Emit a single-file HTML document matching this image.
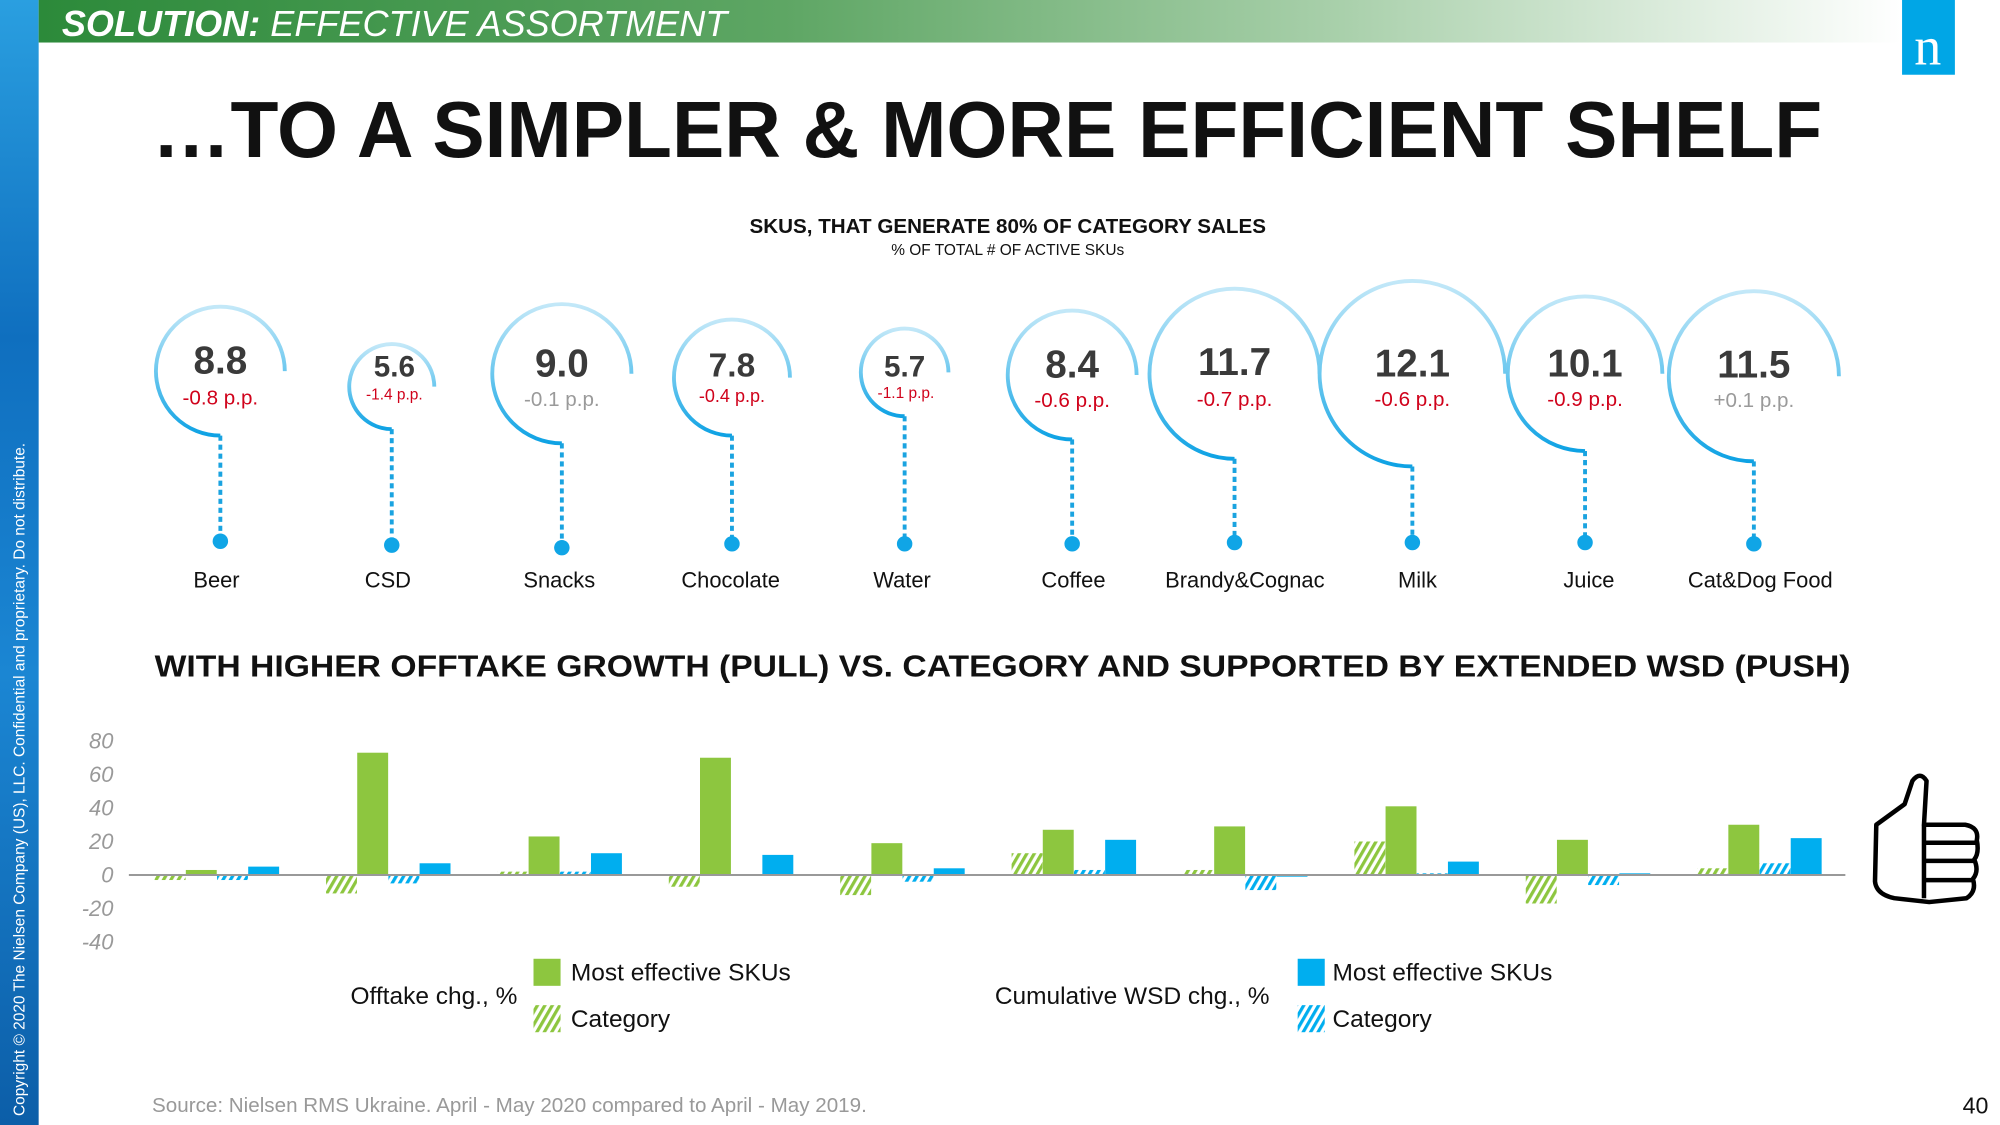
<!DOCTYPE html>
<html><head><meta charset="utf-8"><style>
html,body{margin:0;padding:0;background:#fff;overflow:hidden}
svg{display:block;font-family:"Liberation Sans",Arial,sans-serif}
</style></head><body>
<svg width="2000" height="1125" viewBox="0 0 1552 873" preserveAspectRatio="none" xmlns="http://www.w3.org/2000/svg">
<defs>
<linearGradient id="hdr" x1="0" x2="1" y1="0" y2="0">
<stop offset="0" stop-color="#2c8a3a"/><stop offset="0.4" stop-color="#5ea664"/><stop offset="0.7" stop-color="#a9d0ab"/><stop offset="1" stop-color="#ffffff"/></linearGradient>
<linearGradient id="strip" x1="0" x2="0" y1="0" y2="1">
<stop offset="0" stop-color="#2a9fe0"/><stop offset="0.3" stop-color="#0f6fbf"/><stop offset="0.6" stop-color="#1b86d3"/><stop offset="1" stop-color="#0c5ea8"/></linearGradient>
<linearGradient id="arc" x1="0" x2="0" y1="0" y2="1">
<stop offset="0" stop-color="#c3e8f8"/><stop offset="0.5" stop-color="#6cc8ef"/><stop offset="1" stop-color="#0ea2e4"/></linearGradient>
<pattern id="hg" width="5" height="5" patternUnits="userSpaceOnUse" patternTransform="rotate(30)"><rect width="2.5" height="5" fill="#8dc63f"/></pattern>
<pattern id="hb" width="5" height="5" patternUnits="userSpaceOnUse" patternTransform="rotate(30)"><rect width="2.5" height="5" fill="#00aeef"/></pattern>
</defs>
<rect x="0" y="0" width="30" height="873" fill="url(#strip)"/>
<text transform="translate(19,866) rotate(-90)" font-size="12" fill="#fff">Copyright © 2020 The Nielsen Company (US), LLC. Confidential and proprietary. Do not distribute.</text>
<rect x="30" y="0" width="1445" height="33" fill="url(#hdr)"/>
<text x="48" y="28" font-size="28" fill="#fff" font-style="italic"><tspan font-weight="bold">SOLUTION:</tspan> EFFECTIVE ASSORTMENT</text>
<rect x="1476" y="0" width="41" height="58" fill="#00a6e6"/>
<text x="1496" y="50" font-size="42" fill="#fff" text-anchor="middle" font-family="Liberation Serif,serif">n</text>
<text x="118" y="122" font-size="62" font-weight="bold" fill="#111" textLength="1296" lengthAdjust="spacingAndGlyphs">…TO A SIMPLER &amp; MORE EFFICIENT SHELF</text>
<text x="782" y="181" font-size="16" font-weight="bold" text-anchor="middle" fill="#111">SKUS, THAT GENERATE 80% OF CATEGORY SALES</text>
<text x="782" y="198" font-size="12" text-anchor="middle" fill="#111">% OF TOTAL # OF ACTIVE SKUs</text>
<g fill="none" stroke="url(#arc)" stroke-width="3">
<path d="M171,338 A50,50 0 1 1 221,288"/>
<path d="M304,333 A33,33 0 1 1 337,300"/>
<path d="M436,344 A54,54 0 1 1 490,290"/>
<path d="M568,338 A45,45 0 1 1 613,293"/>
<path d="M702,323 A34,34 0 1 1 736,289"/>
<path d="M832,341 A50,50 0 1 1 882,291"/>
<path d="M958,356 A66,66 0 1 1 1024,290"/>
<path d="M1096,362 A72,72 0 1 1 1168,290"/>
<path d="M1230,350 A60,60 0 1 1 1290,290"/>
<path d="M1361,358 A66,66 0 1 1 1427,292"/>
</g>
<g stroke="#1aa3e0" stroke-width="3" stroke-dasharray="4,3">
<line x1="171" y1="338" x2="171" y2="418"/><line x1="304" y1="333" x2="304" y2="420"/><line x1="436" y1="344" x2="436" y2="422"/><line x1="568" y1="338" x2="568" y2="420"/><line x1="702" y1="323" x2="702" y2="420"/><line x1="832" y1="341" x2="832" y2="420"/><line x1="958" y1="356" x2="958" y2="418"/><line x1="1096" y1="362" x2="1096" y2="418"/><line x1="1230" y1="350" x2="1230" y2="418"/><line x1="1361" y1="358" x2="1361" y2="420"/>
</g>
<g fill="#10a5e6">
<circle cx="171" cy="420" r="6"/><circle cx="304" cy="423" r="6"/><circle cx="436" cy="425" r="6"/><circle cx="568" cy="422" r="6"/><circle cx="702" cy="422" r="6"/><circle cx="832" cy="422" r="6"/><circle cx="958" cy="421" r="6"/><circle cx="1096" cy="421" r="6"/><circle cx="1230" cy="421" r="6"/><circle cx="1361" cy="422" r="6"/>
</g>
<g font-weight="bold" fill="#3a3a3a" text-anchor="middle" font-size="30">
<text x="171" y="290">8.8</text><text x="306" y="292" font-size="23">5.6</text><text x="436" y="292">9.0</text><text x="568" y="292" font-size="26">7.8</text><text x="702" y="292" font-size="23">5.7</text><text x="832" y="293">8.4</text><text x="958" y="291">11.7</text><text x="1096" y="292">12.1</text><text x="1230" y="292">10.1</text><text x="1361" y="293">11.5</text>
</g>
<g fill="#d0021b" text-anchor="middle" font-size="16">
<text x="171" y="314">-0.8 p.p.</text><text x="306" y="310" font-size="12">-1.4 p.p.</text><text x="436" y="315" fill="#9a9a9a">-0.1 p.p.</text><text x="568" y="312" font-size="14">-0.4 p.p.</text><text x="703" y="309" font-size="12">-1.1 p.p.</text><text x="832" y="316">-0.6 p.p.</text><text x="958" y="315">-0.7 p.p.</text><text x="1096" y="315">-0.6 p.p.</text><text x="1230" y="315">-0.9 p.p.</text><text x="1361" y="316" fill="#9a9a9a">+0.1 p.p.</text>
</g>
<g font-size="17" fill="#111" text-anchor="middle">
<text x="168" y="456">Beer</text><text x="301" y="456">CSD</text><text x="434" y="456">Snacks</text><text x="567" y="456">Chocolate</text><text x="700" y="456">Water</text><text x="833" y="456">Coffee</text><text x="966" y="456">Brandy&amp;Cognac</text><text x="1100" y="456">Milk</text><text x="1233" y="456">Juice</text><text x="1366" y="456">Cat&amp;Dog Food</text>
</g>
<text x="778" y="525" font-size="24" font-weight="bold" text-anchor="middle" fill="#111" textLength="1316" lengthAdjust="spacingAndGlyphs">WITH HIGHER OFFTAKE GROWTH (PULL) VS. CATEGORY AND SUPPORTED BY EXTENDED WSD (PUSH)</text>
<g font-size="17" font-style="italic" fill="#999" text-anchor="end">
<text x="88" y="581">80</text><text x="88" y="607">60</text><text x="88" y="633">40</text><text x="88" y="659">20</text><text x="88" y="685">0</text><text x="88" y="711">-20</text><text x="88" y="737">-40</text>
</g>
<g>
<rect x="120" y="679" width="24" height="3.9" fill="url(#hg)"/><rect x="144.2" y="675.1" width="24" height="3.9" fill="#8dc63f"/><rect x="168.4" y="679" width="24" height="3.9" fill="url(#hb)"/><rect x="192.6" y="672.5" width="24" height="6.5" fill="#00aeef"/>
<rect x="253" y="679" width="24" height="14.3" fill="url(#hg)"/><rect x="277.2" y="584.1" width="24" height="94.9" fill="#8dc63f"/><rect x="301.4" y="679" width="24" height="6.5" fill="url(#hb)"/><rect x="325.6" y="669.9" width="24" height="9.1" fill="#00aeef"/>
<rect x="386" y="676.4" width="24" height="2.6" fill="url(#hg)"/><rect x="410.2" y="649.1" width="24" height="29.9" fill="#8dc63f"/><rect x="434.4" y="676.4" width="24" height="2.6" fill="url(#hb)"/><rect x="458.6" y="662.1" width="24" height="16.9" fill="#00aeef"/>
<rect x="519" y="679" width="24" height="9.1" fill="url(#hg)"/><rect x="543.2" y="588" width="24" height="91" fill="#8dc63f"/><rect x="591.6" y="663.4" width="24" height="15.6" fill="#00aeef"/>
<rect x="652" y="679" width="24" height="15.6" fill="url(#hg)"/><rect x="676.2" y="654.3" width="24" height="24.7" fill="#8dc63f"/><rect x="700.4" y="679" width="24" height="5.2" fill="url(#hb)"/><rect x="724.6" y="673.8" width="24" height="5.2" fill="#00aeef"/>
<rect x="785" y="662.1" width="24" height="16.9" fill="url(#hg)"/><rect x="809.2" y="643.9" width="24" height="35.1" fill="#8dc63f"/><rect x="833.4" y="675.1" width="24" height="3.9" fill="url(#hb)"/><rect x="857.6" y="651.7" width="24" height="27.3" fill="#00aeef"/>
<rect x="918" y="675.1" width="24" height="3.9" fill="url(#hg)"/><rect x="942.2" y="641.3" width="24" height="37.7" fill="#8dc63f"/><rect x="966.4" y="679" width="24" height="11.7" fill="url(#hb)"/><rect x="990.6" y="679" width="24" height="1.3" fill="#00aeef"/>
<rect x="1051" y="653" width="24" height="26" fill="url(#hg)"/><rect x="1075.2" y="625.7" width="24" height="53.3" fill="#8dc63f"/><rect x="1099.4" y="677.7" width="24" height="1.3" fill="url(#hb)"/><rect x="1123.6" y="668.6" width="24" height="10.4" fill="#00aeef"/>
<rect x="1184" y="679" width="24" height="22.1" fill="url(#hg)"/><rect x="1208.2" y="651.7" width="24" height="27.3" fill="#8dc63f"/><rect x="1232.4" y="679" width="24" height="7.8" fill="url(#hb)"/><rect x="1256.6" y="677.7" width="24" height="1.3" fill="#00aeef"/>
<rect x="1317" y="673.8" width="24" height="5.2" fill="url(#hg)"/><rect x="1341.2" y="640" width="24" height="39" fill="#8dc63f"/><rect x="1365.4" y="669.9" width="24" height="9.1" fill="url(#hb)"/><rect x="1389.6" y="650.4" width="24" height="28.6" fill="#00aeef"/>
</g>
<line x1="100" y1="679" x2="1432" y2="679" stroke="#999" stroke-width="1.5"/>
<rect x="414" y="744" width="21" height="21" fill="#8dc63f"/>
<rect x="414" y="780" width="21" height="21" fill="url(#hg)"/>
<rect x="1007" y="744" width="21" height="21" fill="#00aeef"/>
<rect x="1007" y="780" width="21" height="21" fill="url(#hb)"/>
<g font-size="19" fill="#111">
<text x="443" y="761">Most effective SKUs</text><text x="443" y="797">Category</text>
<text x="272" y="779">Offtake chg., %</text>
<text x="1034" y="761">Most effective SKUs</text><text x="1034" y="797">Category</text>
<text x="772" y="779">Cumulative WSD chg., %</text>
</g>
<g fill="none" stroke="#000" stroke-width="3.5" stroke-linejoin="round">
<path d="M1456,640 L1478,624 L1484,606 Q1490,598 1495,606 L1493,640 L1525,640 Q1536,642 1534,652 Q1536,662 1532,667 Q1536,676 1531,682 Q1534,692 1526,697 L1497,700 L1470,697 Q1456,694 1455,684 Z"/>
<path d="M1493,640 L1493,697 M1493,654 L1533,654 M1493,668 L1533,668 M1493,683 L1530,683"/>
</g>
<text x="118" y="863" font-size="16" fill="#999">Source: Nielsen RMS Ukraine. April - May 2020 compared to April - May 2019.</text>
<text x="1523" y="864" font-size="18" fill="#111">40</text>
</svg>
</body></html>
